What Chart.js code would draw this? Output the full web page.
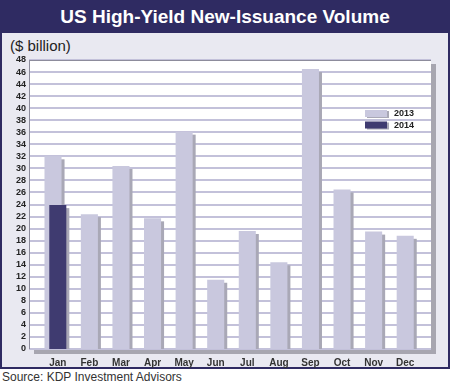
<!DOCTYPE html>
<html>
<head>
<meta charset="utf-8">
<script src="https://cdn.jsdelivr.net/npm/chart.js@4"></script>
<style>
    body { margin: 0; background: #fff; font-family: "Liberation Sans", Arial, sans-serif; }
    #wrap { position: relative; width: 450px; height: 387px; overflow: hidden; }
    #title {
        position: absolute; left: 0; top: 0; width: 450px; height: 33px;
        background: #2f2b62; color: #fff; font-weight: bold; font-size: 19px;
        line-height: 33px; text-align: center;
    }
    #panel {
        position: absolute; left: 0; top: 33px; width: 446px; height: 334px;
        background: #e9e9f1; border: 2px solid #2f2b62; border-top: none;
    }
    #unit { position: absolute; left: 10px; top: 37px; font-size: 15px; color: #222; }
    #source { position: absolute; left: 2px; top: 370px; font-size: 12px; color: #333; }
    canvas { position: absolute; left: 0; top: 0; }
</style>
</head>
<body>
<div id="wrap">
    <div id="title">US High-Yield New-Issuance Volume</div>
    <div id="panel"></div>
    <div id="unit">($ billion)</div>
    <div id="source">Source: KDP Investment Advisors</div>
    <canvas id="chart" width="450" height="387"></canvas>
</div>

<script>
// ── data ─────────────────────────────────────────────────────────────────
const months = ['Jan', 'Feb', 'Mar', 'Apr', 'May', 'Jun', 'Jul', 'Aug', 'Sep', 'Oct', 'Nov', 'Dec'];
const volume2013 = [32.0, 22.4, 30.4, 21.7, 36.1, 11.5, 19.6, 14.4, 46.5, 26.5, 19.5, 18.8];
const volume2014 = [23.9, null, null, null, null, null, null, null, null, null, null, null];

const COLOR_2013 = '#c9c8de';
const COLOR_2014 = '#3f3b70';
const BAR_SHADOW = '#a9a8b6';
const GRID = '#c3c1da';

// where both years have a bar, nudge the 2013 one left so it peeks out
const overlapNudge = {
    id: 'overlapNudge',
    afterDatasetsUpdate(chart) {
        const back = chart.getDatasetMeta(0).data;
        volume2014.forEach((v, j) => {
            if (v == null || !back[j]) return;
            back[j].x -= back[j].width * 0.28;
        });
    }
};

// white plot box with a grey drop shadow, gridlines and a thin frame
const plotFrame = {
    id: 'plotFrame',
    beforeDatasetsDraw(chart) {
        const { ctx, chartArea: a, scales } = chart;
        const left = a.left - 13, right = a.right + 10;
        const top = a.top, bottom = a.bottom;

        ctx.save();
        ctx.fillStyle = '#a7a6b0';
        ctx.fillRect(left + 5, top + 4, right - left, bottom - top + 1);
        ctx.fillStyle = '#fff';
        ctx.fillRect(left, top, right - left, bottom - top);

        // gridlines, one per y tick
        ctx.fillStyle = GRID;
        scales.y.ticks.forEach(t => {
            const y = Math.round(scales.y.getPixelForValue(t.value));
            ctx.fillRect(left, y - 1, right - left, 2);
        });

        ctx.fillStyle = '#8d8c9c';
        ctx.fillRect(left, top, 1, bottom - top);
        ctx.fillRect(left, top, right - left, 1);

        // bar shadows, drawn behind the bars
        ctx.fillStyle = BAR_SHADOW;
        chart.data.datasets.forEach((ds, i) => {
            chart.getDatasetMeta(i).data.forEach((bar, j) => {
                if (ds.data[j] == null) return;
                const w = bar.width;
                ctx.fillRect(bar.x - w / 2 + 3, bar.y + 3, w, bar.base - bar.y - 3);
            });
        });
        ctx.restore();
    }
};

// small legend in the upper right of the plot
const boxLegend = {
    id: 'boxLegend',
    afterDraw(chart) {
        const { ctx, chartArea: a } = chart;
        const x = a.right - 56;
        let y = a.top + 50;

        ctx.save();
        ctx.font = 'bold 9px "Liberation Sans", Arial, sans-serif';
        ctx.textBaseline = 'middle';
        chart.data.datasets.forEach(ds => {
            ctx.fillStyle = BAR_SHADOW;
            ctx.fillRect(x + 2, y + 1, 22, 7);
            ctx.fillStyle = ds.backgroundColor;
            ctx.fillRect(x, y, 22, 7);
            ctx.fillStyle = '#222';
            ctx.fillText(ds.label, x + 29, y + 4);
            y += 11.5;
        });
        ctx.restore();
    }
};

new Chart(document.getElementById('chart'), {
    type: 'bar',
    data: {
        labels: months,
        datasets: [
            { label: '2013', data: volume2013, backgroundColor: COLOR_2013, order: 2 },
            { label: '2014', data: volume2014, backgroundColor: COLOR_2014, order: 1 }
        ]
    },
    options: {
        responsive: false,
        animation: false,
        grouped: false,
        barPercentage: 0.54,
        categoryPercentage: 1,
        layout: { padding: { left: 2, top: 60, right: 29, bottom: 18 } },
        plugins: { legend: { display: false }, tooltip: { enabled: false } },
        scales: {
            x: {
                grid: { display: false, drawTicks: false },
                border: { display: false },
                ticks: {
                    padding: 8,
                    color: '#333',
                    font: { family: '"Liberation Sans", Arial, sans-serif', size: 10, weight: 'bold' }
                },
                afterFit(scale) { scale.height = 20; }
            },
            y: {
                min: 0,
                max: 48,
                grid: { display: false, drawTicks: false },
                border: { display: false },
                ticks: {
                    stepSize: 2,
                    autoSkip: false,
                    padding: 16,
                    color: '#222',
                    font: { family: '"Liberation Sans", Arial, sans-serif', size: 9, weight: 'bold' }
                },
                afterFit(scale) { scale.width = 40; }
            }
        }
    },
    plugins: [overlapNudge, plotFrame, boxLegend]
});
</script>
</body>
</html>
